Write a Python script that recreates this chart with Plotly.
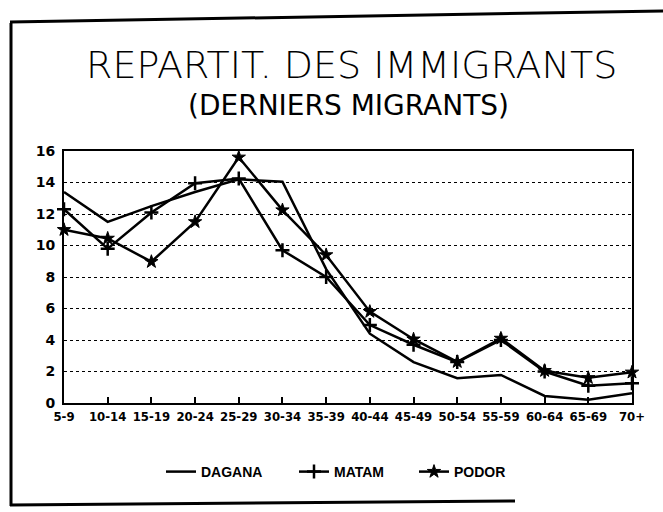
import plotly.graph_objects as go

# ---- data ----
categories = ["5-9", "10-14", "15-19", "20-24", "25-29", "30-34", "35-39",
              "40-44", "45-49", "50-54", "55-59", "60-64", "65-69", "70+"]
dagana = [13.4, 11.5, 12.5, 13.4, 14.2, 14.05, 8.5, 4.4, 2.6, 1.57, 1.78, 0.45, 0.2, 0.62]
matam = [12.3, 9.8, 12.1, 13.95, 14.25, 9.7, 8.0, 4.95, 3.7, 2.6, 4.0, 2.0, 1.1, 1.25]
podor = [11.0, 10.45, 8.97, 11.5, 15.6, 12.25, 9.4, 5.8, 4.05, 2.62, 4.1, 2.05, 1.6, 1.95]
y_ticks = [0, 2, 4, 6, 8, 10, 12, 14, 16]

W, H = 663, 512
ML, MR, MT, MB = 64, 31, 151, 109
PW, PH = W - ML - MR, H - MT - MB


def px(x):
    return (x - ML) / PW


def py(y):
    return (H - MB - y) / PH


fig = go.Figure()
fig.add_trace(go.Scatter(x=categories, y=dagana, name="DAGANA", mode="lines",
                         line=dict(color="black", width=2.5), cliponaxis=False,
                         legend="legend"))
fig.add_trace(go.Scatter(x=categories, y=matam, name="MATAM", mode="lines+markers",
                         line=dict(color="black", width=2.5),
                         marker=dict(symbol="cross-thin", size=10, color="black",
                                     line=dict(color="black", width=2.5)),
                         cliponaxis=False, legend="legend2"))
fig.add_trace(go.Scatter(x=categories, y=podor, name="PODOR", mode="lines+markers",
                         line=dict(color="black", width=2.5),
                         marker=dict(symbol="star", size=10, color="black",
                                     line=dict(color="black", width=1)),
                         cliponaxis=False, legend="legend3"))

axis_font = dict(family="Liberation Sans Narrow, DejaVu Sans Condensed, sans-serif",
                 size=13, color="black", weight="bold")
legend_font = dict(family="Liberation Sans, Arial, sans-serif", size=14,
                   color="black", weight="bold")


def legend_at(xpix):
    return dict(orientation="h", x=px(xpix), xanchor="left", y=py(472), yanchor="middle",
                font=legend_font, bgcolor="rgba(0,0,0,0)")


fig.update_layout(
    width=W, height=H,
    margin=dict(l=ML, r=MR, t=MT, b=MB, pad=0),
    paper_bgcolor="white", plot_bgcolor="white",
    showlegend=True,
    legend=legend_at(161),
    legend2=legend_at(294),
    legend3=legend_at(414),
    xaxis=dict(type="category", range=[0, 13], showgrid=False, zeroline=False,
               showline=True, linecolor="black", linewidth=2, mirror=True,
               ticks="inside", ticklen=6, tickwidth=2, tickcolor="black",
               tickfont=axis_font, tickangle=0, fixedrange=True),
    yaxis=dict(range=[0, 16], tickvals=y_ticks, showgrid=True, gridcolor="black",
               griddash="dot", gridwidth=1, zeroline=False,
               showline=True, linecolor="black", linewidth=2, mirror=True,
               ticks="", ticklabelstandoff=4,
               tickfont=dict(family="DejaVu Sans, sans-serif", size=14,
                             color="black", weight="bold")),
    annotations=[
        dict(text="REPARTIT. DES IMMIGRANTS", xref="paper", yref="paper",
             x=px(351), y=py(65), xanchor="center", yanchor="middle", showarrow=False,
             font=dict(family="DejaVu Sans, sans-serif", size=38, color="black",
                       weight=300)),
        dict(text="(DERNIERS MIGRANTS)", xref="paper", yref="paper",
             x=px(348), y=py(105), xanchor="center", yanchor="middle", showarrow=False,
             font=dict(family="DejaVu Sans, sans-serif", size=28,
                       color="black", weight="normal")),
    ],
    shapes=[
        dict(type="line", xref="paper", yref="paper", x0=px(11), y0=py(23),
             x1=px(11), y1=py(506), line=dict(color="black", width=3)),
        dict(type="line", xref="paper", yref="paper", x0=px(10), y0=py(22),
             x1=px(663), y1=py(11), line=dict(color="black", width=3)),
        dict(type="line", xref="paper", yref="paper", x0=px(10), y0=py(505),
             x1=px(515), y1=py(501), line=dict(color="black", width=3)),
    ],
)

fig.write_html("out.html", config={"displayModeBar": False},
               post_script="document.body.style.margin='0';")
